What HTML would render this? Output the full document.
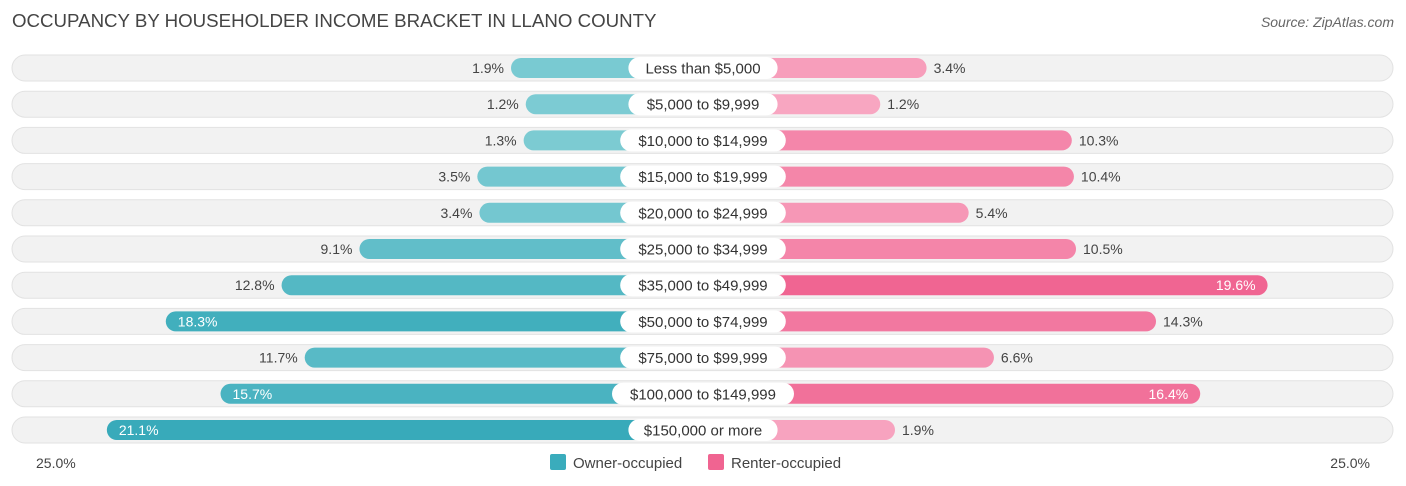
<!DOCTYPE html>
<html><head><meta charset="utf-8"><style>
body{margin:0;background:#fff;width:1406px;height:486px;overflow:hidden;font-family:"Liberation Sans",sans-serif;}
#title{position:absolute;left:12px;top:10px;font-size:18.7px;color:#444;}
#source{position:absolute;right:12px;top:14px;font-size:14px;color:#666;font-style:italic;}
svg{position:absolute;left:0;top:0;}
</style></head><body>
<div id="title">OCCUPANCY BY HOUSEHOLDER INCOME BRACKET IN LLANO COUNTY</div>
<div id="source">Source: ZipAtlas.com</div>
<svg id="chart" width="1406" height="486"></svg>
<script>
const categories=["Less than $5,000","$5,000 to $9,999","$10,000 to $14,999","$15,000 to $19,999","$20,000 to $24,999","$25,000 to $34,999","$35,000 to $49,999","$50,000 to $74,999","$75,000 to $99,999","$100,000 to $149,999","$150,000 or more"];
const owner=[1.9,1.2,1.3,3.5,3.4,9.1,12.8,18.3,11.7,15.7,21.1];
const renter=[3.4,1.2,10.3,10.4,5.4,10.5,19.6,14.3,6.6,16.4,1.9];
const axisLabels=["25.0%","25.0%"];
const NS="http://www.w3.org/2000/svg";
const svg=document.getElementById('chart');
const cx=703,off=152,sc=21.05,y0=68,dy=36.2,bh=20;
const len=v=>off+v*sc;
function mk(t,a,p){const e=document.createElementNS(NS,t);for(const k in a)e.setAttribute(k,a[k]);(p||svg).appendChild(e);return e;}
function mix(c1,c2,t){return 'rgb('+c1.map((c,i)=>Math.round(c+(c2[i]-c)*t)).join(',')+')';}
categories.forEach((c,i)=>{
  const y=y0+i*dy;
  const g=mk('g',{});
  
  
  const bg=mk('rect',{x:12,y:y-13,width:1381,height:26,rx:13,fill:'#f2f2f2',stroke:'#e2e2e2','stroke-width':1},g);
  
  
  const ow=len(owner[i]),rw=len(renter[i]);
  const to=Math.min(owner[i]/21,1),tr=Math.min(renter[i]/20,1);
  const ob=mk('rect',{x:cx-ow,y:y-bh/2,width:ow,height:bh,rx:10,fill:mix([128,205,212],[56,170,186],to)},g);
  
  
  const rb=mk('rect',{x:cx,y:y-bh/2,width:rw,height:bh,rx:10,fill:mix([248,170,196],[240,100,145],tr)},g);
  
  
  const tw=c.length*8.2+18;
  const lp=mk('rect',{x:cx-tw/2,y:y-11,width:tw,height:22,rx:11,fill:'#fff'},g);
  
  
  const lt=mk('text',{x:cx,y:y+5.5,'text-anchor':'middle','font-size':15,fill:'#333'},g);
  lt.textContent=c;
  
  
  const oin=owner[i]>15;
  const ot=mk('text',{x:oin?cx-ow+12:cx-ow-7,y:y+5,'text-anchor':oin?'start':'end','font-size':14,fill:oin?'#fff':'#444'},g);
  ot.textContent=owner[i].toFixed(1)+'%';
  
  
  const rin=renter[i]>15;
  const rt=mk('text',{x:rin?cx+rw-12:cx+rw+7,y:y+5,'text-anchor':rin?'end':'start','font-size':14,fill:rin?'#fff':'#444'},g);
  rt.textContent=renter[i].toFixed(1)+'%';
  
  
});
const a1=mk('text',{x:36,y:468,'font-size':14,fill:'#444'});a1.textContent=axisLabels[0];


const a2=mk('text',{x:1370,y:468,'font-size':14,fill:'#444','text-anchor':'end'});a2.textContent=axisLabels[1];


const l1=mk('rect',{x:550,y:454,width:16,height:16,rx:2,fill:'#3aacbc'});


const l1t=mk('text',{x:573,y:468,'font-size':15,fill:'#444'});l1t.textContent='Owner-occupied';


const l2=mk('rect',{x:708,y:454,width:16,height:16,rx:2,fill:'#f06491'});


const l2t=mk('text',{x:731,y:468,'font-size':15,fill:'#444'});l2t.textContent='Renter-occupied';


</script>
</body></html>
